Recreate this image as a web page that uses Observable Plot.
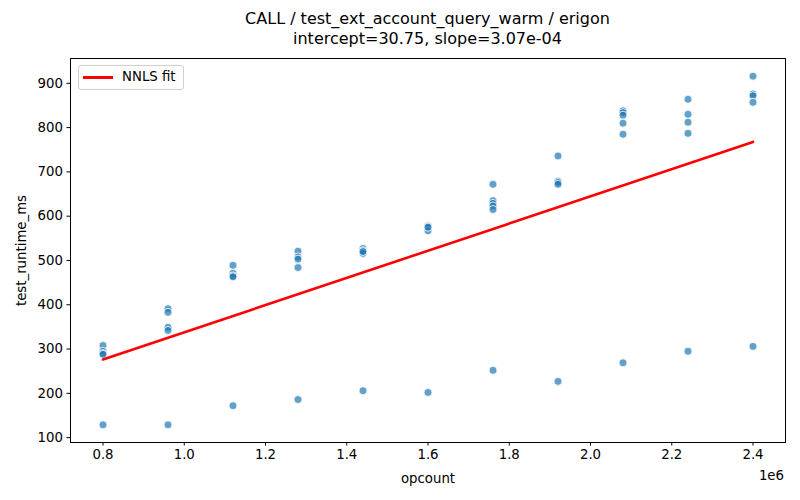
<!DOCTYPE html>
<html>
<head>
<meta charset="utf-8">
<script src="https://cdn.jsdelivr.net/npm/d3@7"></script>
<script src="https://cdn.jsdelivr.net/npm/@observablehq/plot@0.6"></script>
<style>
  body { margin: 0; background: #fff; font-family: "DejaVu Sans", sans-serif; }
  #wrap { position: relative; width: 800px; height: 500px; }
  #title { box-sizing: border-box; width: 800px; height: 50px; padding: 9px 15px 0 70px; text-align: center; font-size: 16px; line-height: 20px; color: #000; }
  #legend { position: absolute; left: 78px; top: 65px; width: 104px; height: 23px; border: 1px solid #d0d0d0; border-radius: 3px; background: rgba(255,255,255,0.8); }
  #legend .sw { position: absolute; left: 4px; top: 10px; width: 30px; height: 2.7px; background: red; }
  #legend .lb { position: absolute; left: 43px; top: 3px; font-size: 13.3px; line-height: 16px; }
  #offset { position: absolute; right: 16px; top: 468px; font-size: 13.3px; line-height: 16px; }
</style>
</head>
<body>
<div id="wrap">
  <div id="title">CALL / test_ext_account_query_warm / erigon<br>intercept=30.75, slope=3.07e-04</div>
  <div id="chart"></div>
  <div id="legend"><div class="sw"></div><div class="lb">NNLS fit</div></div>
  <div id="offset">1e6</div>
</div>
<script>
const opcounts = [800000, 960000, 1120000, 1280000, 1440000, 1600000, 1760000, 1920000, 2080000, 2240000, 2400000];
const runtimes = [
  [308, 295, 290, 288, 129],
  [391, 383, 349, 342, 129],
  [489, 471, 465, 463, 172],
  [521, 508, 503, 484, 186],
  [527, 522, 516, 520, 206],
  [578, 576, 567, 575, 202],
  [672, 635, 629, 623, 615, 252],
  [736, 679, 676, 672, 227],
  [838, 834, 828, 810, 785, 269],
  [864, 830, 812, 787, 295],
  [916, 876, 872, 857, 306]
];
const fitX = [800000, 2400000];
const fitY = [276.4, 767.6];
const xTicks = [800000, 1000000, 1200000, 1400000, 1600000, 1800000, 2000000, 2200000, 2400000];
const yTicks = [100, 200, 300, 400, 500, 600, 700, 800, 900];

const points = opcounts.flatMap((x, i) => runtimes[i].map(y => ({x, y})));
const fit = fitX.map((x, i) => ({x, y: fitY[i]}));

const chart = Plot.plot({
  width: 800,
  height: 450,
  marginLeft: 70,
  marginRight: 15,
  marginTop: 8,
  marginBottom: 58,
  style: { fontFamily: "DejaVu Sans", fontSize: "13.3px", color: "#000", background: "#fff" },
  x: { domain: [720000, 2480000] },
  y: { domain: [89, 956] },
  marks: [
    Plot.frame({ stroke: "#000", strokeWidth: 1 }),
    Plot.axisX({ ticks: xTicks, tickSize: 3.5, tickPadding: 4, tickFormat: d => (d / 1e6).toFixed(1), label: "opcount", labelAnchor: "center", labelArrow: "none", labelOffset: 40 }),
    Plot.axisY({ ticks: yTicks, tickSize: 3.5, tickPadding: 4, label: "test_runtime_ms", labelAnchor: "center", labelArrow: "none", labelOffset: 54 }),
    Plot.dot(points, { x: "x", y: "y", r: 4, fill: "#1f77b4", fillOpacity: 0.7, stroke: "#fff", strokeWidth: 0.8 }),
    Plot.line(fit, { x: "x", y: "y", stroke: "red", strokeWidth: 2.6 })
  ]
});
document.getElementById("chart").appendChild(chart);
</script>
</body>
</html>
